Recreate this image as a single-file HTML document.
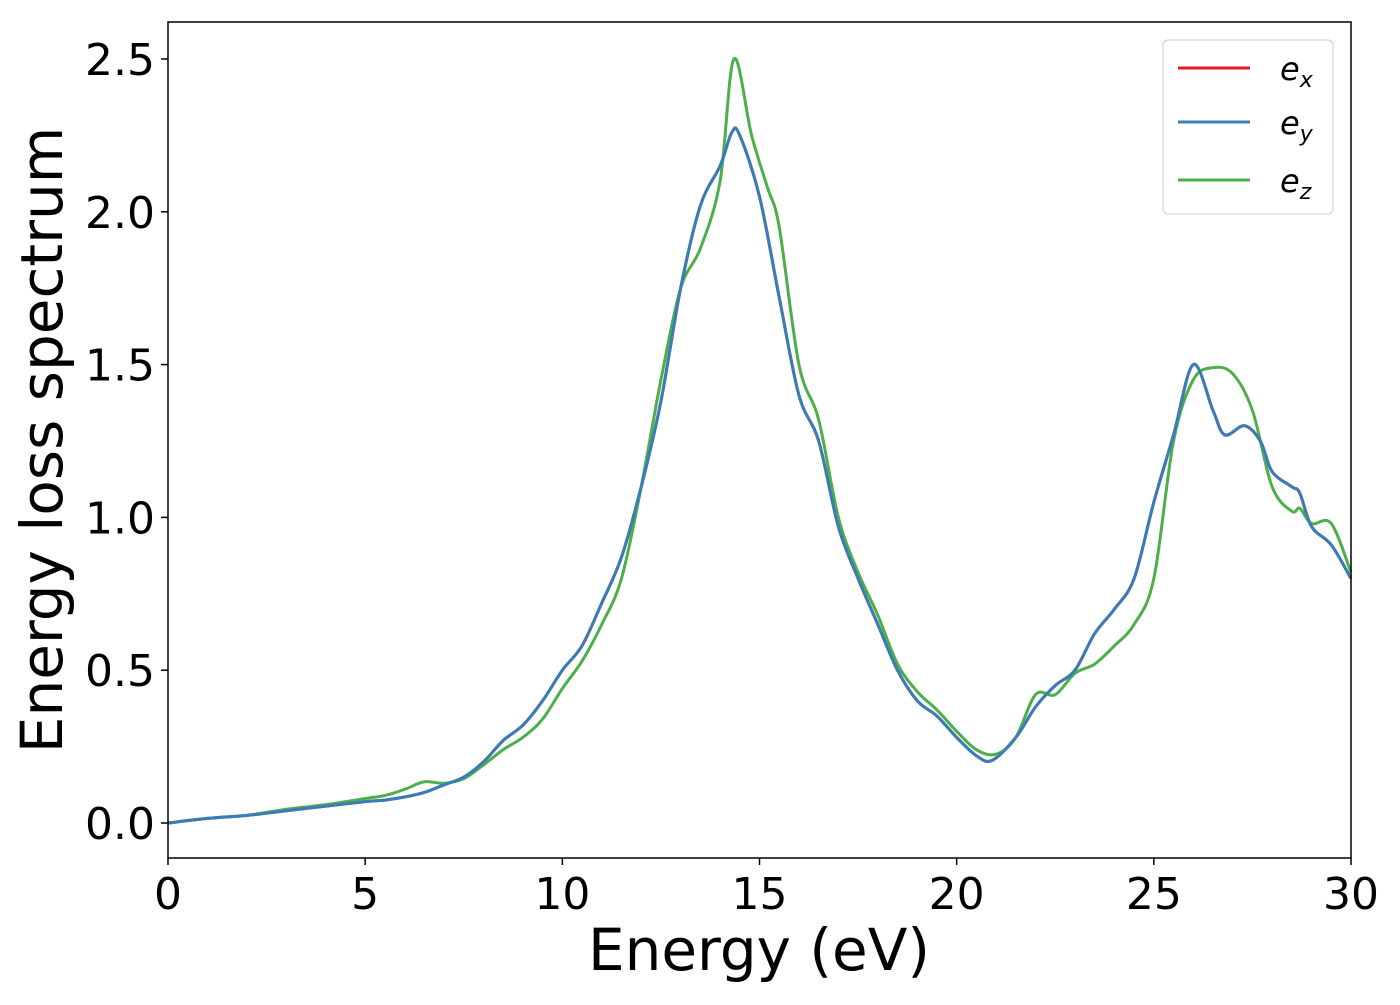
<!DOCTYPE html>
<html><head><meta charset="utf-8"><style>
body{margin:0;background:#fff}
svg text{font-family:"DejaVu Sans","Liberation Sans",sans-serif;fill:#000}
</style></head><body>
<svg width="1400" height="1000" viewBox="0 0 1400 1000" xmlns="http://www.w3.org/2000/svg">
<g id="axes"></g>
<g id="series"></g>
<rect x="168" y="22" width="1183" height="836" fill="none" stroke="#000" stroke-width="1.5"/>
<g>
<rect x="1163" y="40" width="170" height="174" rx="5" fill="#fff" fill-opacity="0.8" stroke="#ccc"/>
<line x1="1178" y1="68" x2="1250" y2="68" stroke="#e41a1c" stroke-width="3"/>
<text x="1280" y="80" font-size="32" font-style="italic">e<tspan font-size="22" dy="7">x</tspan></text>
<line x1="1178" y1="122" x2="1250" y2="122" stroke="#377eb8" stroke-width="3"/>
<text x="1280" y="134" font-size="32" font-style="italic">e<tspan font-size="22" dy="7">y</tspan></text>
<line x1="1178" y1="180" x2="1250" y2="180" stroke="#4daf4a" stroke-width="3"/>
<text x="1280" y="192" font-size="32" font-style="italic">e<tspan font-size="22" dy="7">z</tspan></text>
</g>
<text x="759" y="970" font-size="58" text-anchor="middle">Energy (eV)</text>
<text transform="translate(62,440) rotate(-90)" font-size="58" text-anchor="middle">Energy loss spectrum</text>
</svg>
<script>
const xTicks=[0,5,10,15,20,25,30];
const yTicks=[0.0,0.5,1.0,1.5,2.0,2.5];
const yTickLabels=["0.0","0.5","1.0","1.5","2.0","2.5"];
const xsXY=[0,1,2,3,4,5,5.5,6,6.5,7,7.5,8,8.5,9,9.5,10,10.5,11,11.5,12,12.5,13,13.5,14,14.3,14.5,15,15.5,16,16.5,17,17.5,18,18.5,19,19.5,20,20.5,20.9,21.5,22,22.5,23,23.5,24,24.5,25,25.5,26,26.5,26.8,27.3,27.7,28,28.5,28.7,29,29.5,30];
const ex=[0,0.015,0.025,0.04,0.055,0.07,0.075,0.085,0.1,0.125,0.15,0.2,0.27,0.32,0.4,0.5,0.58,0.72,0.87,1.1,1.38,1.75,2.02,2.15,2.26,2.25,2.05,1.72,1.4,1.25,0.97,0.8,0.65,0.5,0.4,0.35,0.28,0.22,0.205,0.28,0.38,0.45,0.5,0.62,0.7,0.8,1.05,1.27,1.5,1.35,1.27,1.3,1.25,1.15,1.1,1.08,0.97,0.91,0.8];
const ey=ex.slice();
const xsZ=[0,1,2,3,4,5,5.5,6,6.5,7,7.5,8,8.5,9,9.5,10,10.5,11,11.5,12,12.5,13,13.5,14,14.35,14.8,15.2,15.5,16,16.5,17,17.5,18,18.5,19,19.5,20,20.5,21,21.5,22,22.5,23,23.5,24,24.5,25,25.5,26,26.5,27,27.5,28,28.5,28.7,29,29.5,30];
const ez=[0,0.015,0.025,0.045,0.06,0.08,0.09,0.11,0.135,0.13,0.145,0.19,0.24,0.28,0.34,0.44,0.53,0.65,0.8,1.1,1.45,1.75,1.88,2.1,2.5,2.25,2.08,1.95,1.5,1.32,1.0,0.82,0.68,0.52,0.43,0.37,0.3,0.24,0.225,0.28,0.42,0.42,0.49,0.52,0.58,0.65,0.8,1.25,1.45,1.49,1.47,1.35,1.1,1.02,1.03,0.98,0.98,0.82];
const X=v=>168+v*(1351-168)/30;
const Y=v=>823-v*(823-59)/2.5;
const NS="http://www.w3.org/2000/svg";
const axes=document.getElementById('axes');
xTicks.forEach(t=>{
 const l=document.createElementNS(NS,'line');
 
 
 l.setAttribute('x1',X(t));l.setAttribute('x2',X(t));l.setAttribute('y1',858);l.setAttribute('y2',865);l.setAttribute('stroke','#000');l.setAttribute('stroke-width','1.5');
 axes.appendChild(l);
 const tx=document.createElementNS(NS,'text');
 
 
 tx.setAttribute('x',X(t));tx.setAttribute('y',909);tx.setAttribute('font-size','44');tx.setAttribute('text-anchor','middle');
 tx.textContent=String(t);axes.appendChild(tx);
});
yTicks.forEach((t,i)=>{
 const l=document.createElementNS(NS,'line');
 
 
 l.setAttribute('x1',161);l.setAttribute('x2',168);l.setAttribute('y1',Y(t));l.setAttribute('y2',Y(t));l.setAttribute('stroke','#000');l.setAttribute('stroke-width','1.5');
 axes.appendChild(l);
 const tx=document.createElementNS(NS,'text');
 
 
 tx.setAttribute('x',155);tx.setAttribute('y',Y(t)+16);tx.setAttribute('font-size','44');tx.setAttribute('text-anchor','end');
 tx.textContent=yTickLabels[i];axes.appendChild(tx);
});
function path(xs,ys){
 const p=xs.map((x,i)=>[X(x),Y(ys[i])]);
 let d=`M${p[0][0]},${p[0][1]}`;
 for(let i=0;i<p.length-1;i++){
  const p0=p[Math.max(0,i-1)],p1=p[i],p2=p[i+1],p3=p[Math.min(p.length-1,i+2)];
  const c1=[p1[0]+(p2[0]-p0[0])/6,p1[1]+(p2[1]-p0[1])/6];
  const c2=[p2[0]-(p3[0]-p1[0])/6,p2[1]-(p3[1]-p1[1])/6];
  d+=`C${c1[0]},${c1[1]} ${c2[0]},${c2[1]} ${p2[0]},${p2[1]}`;
 }
 return d;
}
const g=document.getElementById('series');
[[xsXY,ex,'#e41a1c','series-ex'],[xsZ,ez,'#4daf4a','series-ez'],[xsXY,ey,'#377eb8','series-ey']].forEach(s=>{
 const el=document.createElementNS(NS,'path');
 
 
 el.setAttribute('d',path(s[0],s[1]));el.setAttribute('fill','none');el.setAttribute('stroke',s[2]);el.setAttribute('stroke-width','3');
 g.appendChild(el);
});
</script>
</body></html>
